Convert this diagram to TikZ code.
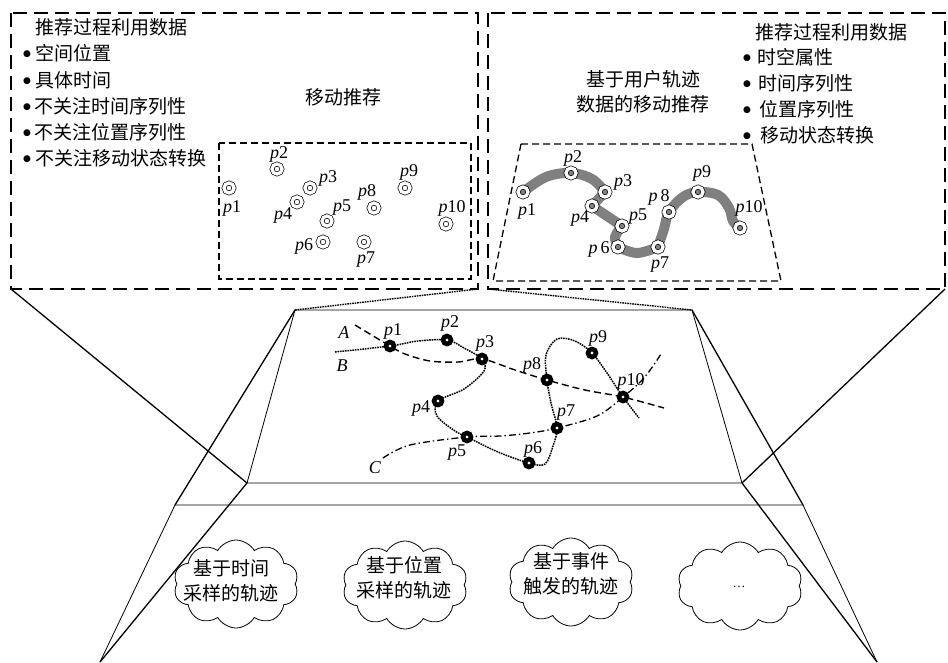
\documentclass[tikz,border=0pt]{standalone}
\usepackage{fontspec}
\setmainfont{Liberation Serif}
\newfontfamily\cjk{Noto Sans CJK SC}
\newfontfamily\djv{DejaVu Sans}
\usetikzlibrary{shapes.symbols}
\begin{document}
\begin{tikzpicture}[x=1pt,y=-1pt,
  cn/.style={font=\cjk\fontsize{19}{25}\selectfont, inner sep=0pt},
  bl/.style={cn, anchor=west},
  bul/.style={font=\djv\fontsize{9}{9}\selectfont, inner sep=0pt},
  lab/.style={font=\fontsize{18}{20}\selectfont, inner sep=0pt},
  bigbox/.style={line width=2.2pt, dash pattern=on 14pt off 7pt},
  smallbox/.style={line width=1.3pt, dash pattern=on 7pt off 4pt},
  thinln/.style={line width=0.8pt},
  projln/.style={line width=1.3pt},
  dotln/.style={line width=1.4pt, dash pattern=on 1.6pt off 0.9pt},
  trajA/.style={line width=1.4pt, dash pattern=on 7pt off 4pt},
  trajB/.style={line width=1.5pt, dash pattern=on 1.6pt off 0.9pt},
  trajC/.style={line width=1.3pt, dash pattern=on 7pt off 3pt on 1.4pt off 3pt},
  ptA/.style={circle, draw, line width=0.7pt, double=white, double distance=3.3pt, fill=white, minimum size=10pt, inner sep=0pt},
  ptB/.style={circle, draw, line width=0.7pt, double=white, double distance=3.3pt, fill=gray, minimum size=10pt, inner sep=0pt},
  ptM/.style={circle, draw=black, line width=4.6pt, fill=white, minimum size=8pt, inner sep=0pt},
  graypath/.style={line width=10pt, gray, line cap=round, line join=round},
  cloudbox/.style={cloud, draw, line width=0.8pt, cloud puffs=10, cloud puff arc=120, cloud ignores aspect, minimum width=125pt, minimum height=88pt, inner sep=0pt}
]
\useasboundingbox (0,0) rectangle (948,662);

% corner coordinates
\coordinate (LTL) at (11,13);  \coordinate (LBR) at (478,289); \coordinate (LBL) at (11,289);
\coordinate (RTL) at (488,13); \coordinate (RBR) at (945,289); \coordinate (RBL) at (488,289);
\coordinate (PTL) at (295,310); \coordinate (PTR) at (692,310);
\coordinate (PBR) at (742,483); \coordinate (PBL) at (247,483);
\coordinate (QTL) at (175,505); \coordinate (QTR) at (803,505);
\coordinate (QBL) at (100,662); \coordinate (QBR) at (877,662);

% big boxes
\draw[bigbox] (LTL) rectangle (LBR);
\draw[bigbox] (RTL) rectangle (RBR);

% projection lines
\draw[projln] (LBL) -- (PBL);
\draw[dotln] (LBR) -- (PTL);
\draw[dotln] (RBL) -- (PTR);
\draw[projln] (RBR) -- (PBR);
\draw[projln] (PTL) -- (QTL);
\draw[projln] (PTR) -- (QTR);
\draw[projln] (PBL) -- (QBL);
\draw[projln] (PBR) -- (QBR);

% middle plane and bottom layer
\draw[thinln] (PTL) -- (PTR) -- (PBR) -- (PBL) -- cycle;
\draw[thinln] (QBL) -- (QTL) -- (QTR) -- (QBR);

% ---------- left box text ----------
\node[bl] (lt0) at (35,27) {推荐过程利用数据};
\node[bul] (lb1) at (27,54) {●}; \node[bl] (lt1) at (35,53) {空间位置};
\node[bul] (lb2) at (27,81) {●}; \node[bl] (lt2) at (35,80) {具体时间};
\node[bul] (lb3) at (27,107) {●}; \node[bl] (lt3) at (34,106) {不关注时间序列性};
\node[bul] (lb4) at (27,133) {●}; \node[bl] (lt4) at (34,132) {不关注位置序列性};
\node[bul] (lb5) at (27,159) {●}; \node[bl] (lt5) at (35,158) {不关注移动状态转换};
\node[cn] (lt6) at (343,97) {移动推荐};

% left inner box
\coordinate (LIa) at (219,143); \coordinate (LIb) at (471,279);
\draw[smallbox] (LIa) rectangle (LIb);
\node[ptA] (q1) at (229,188) {};  \node[lab] (lq1) at (232,208) {\textit{p}1};
\node[ptA] (q2) at (277,169) {};  \node[lab] (lq2) at (279,154) {\textit{p}2};
\node[ptA] (q3) at (310,188) {};  \node[lab] (lq3) at (328,178) {\textit{p}3};
\node[ptA] (q4) at (297,202) {};  \node[lab] (lq4) at (283,215) {\textit{p}4};
\node[ptA] (q5) at (327,221) {};  \node[lab] (lq5) at (342,208) {\textit{p}5};
\node[ptA] (q6) at (323,242) {};  \node[lab] (lq6) at (304,246) {\textit{p}6};
\node[ptA] (q7) at (364,242) {};  \node[lab] (lq7) at (366,260) {\textit{p}7};
\node[ptA] (q8) at (374,208) {};  \node[lab] (lq8) at (367,192) {\textit{p}8};
\node[ptA] (q9) at (405,188) {};  \node[lab] (lq9) at (409,172) {\textit{p}9};
\node[ptA] (q10) at (446,224) {}; \node[lab] (lq10) at (452,208) {\textit{p}10};

% ---------- right box text ----------
\node[bl] (rt0) at (755,32) {推荐过程利用数据};
\node[bul] (rb1) at (747,58) {●}; \node[bl] (rt1) at (757,57) {时空属性};
\node[bul] (rb2) at (747,84) {●}; \node[bl] (rt2) at (758,83) {时间序列性};
\node[bul] (rb3) at (747,110) {●}; \node[bl] (rt3) at (759,109) {位置序列性};
\node[bul] (rb4) at (747,136) {●}; \node[bl] (rt4) at (760,135) {移动状态转换};
\node[cn, align=center] (rt5) at (643,92) {基于用户轨迹\\数据的移动推荐};

% right trapezoid
\coordinate (RIa) at (521,144); \coordinate (RIb) at (752,144);
\coordinate (RIc) at (781,281); \coordinate (RId) at (493,281);
\draw[smallbox] (RIa) -- (RIb) -- (RIc) -- (RId) -- cycle;

\coordinate (r1) at (523,192); \coordinate (r2) at (571,173); \coordinate (r3) at (605,192);
\coordinate (r4) at (592,206); \coordinate (r5) at (622,226); \coordinate (r6) at (618,247);
\coordinate (r7) at (658,247); \coordinate (r8) at (669,212); \coordinate (r9) at (698,192);
\coordinate (r10) at (740,228);
\draw[graypath] plot[smooth, tension=0.6] coordinates {(r1) (546,177) (r2) (592,179) (r3)};
\draw[graypath] (r3) -- (r4) -- (r5);
\draw[graypath] plot[smooth, tension=0.6] coordinates {(r5) (615,237) (r6)};
\draw[graypath] plot[smooth, tension=0.6] coordinates {(r6) (637,253) (r7)};
\draw[graypath] plot[smooth, tension=0.6] coordinates {(r7) (664,229) (r8) (683,197) (r9) (718,195) (729,208) (733,221) (r10)};

\node[ptB] (R1) at (r1) {};  \node[lab] (lr1) at (527,211) {\textit{p}1};
\node[ptB] (R2) at (r2) {};  \node[lab] (lr2) at (573,158) {\textit{p}2};
\node[ptB] (R3) at (r3) {};  \node[lab] (lr3) at (623,182) {\textit{p}3};
\node[ptB] (R4) at (r4) {};  \node[lab] (lr4) at (580,218) {\textit{p}4};
\node[ptB] (R5) at (r5) {};  \node[lab] (lr5) at (638,217) {\textit{p}5};
\node[ptB] (R6) at (r6) {};  \node[lab] (lr6) at (599,249) {\textit{p}\,6};
\node[ptB] (R7) at (r7) {};  \node[lab] (lr7) at (660,265) {\textit{p}7};
\node[ptB] (R8) at (r8) {};  \node[lab] (lr8) at (659,197) {\textit{p}\,8};
\node[ptB] (R9) at (r9) {};  \node[lab] (lr9) at (702,173) {\textit{p}9};
\node[ptB] (R10) at (r10) {}; \node[lab] (lr10) at (749,208) {\textit{p}10};

% ---------- middle plane trajectories ----------
\coordinate (m1) at (390,346); \coordinate (m2) at (447,340); \coordinate (m3) at (482,359);
\coordinate (m4) at (438,401); \coordinate (m5) at (467,437); \coordinate (m6) at (529,463);
\coordinate (m7) at (557,428); \coordinate (m8) at (547,380); \coordinate (m9) at (592,353);
\coordinate (m10) at (623,397);
\coordinate (As) at (355,325); \coordinate (Ae) at (664,408);
\coordinate (Bs) at (335,352); \coordinate (Be) at (639,418);
\coordinate (Cs) at (383,458); \coordinate (Ce) at (661,354);

% A: dashed
\draw[trajA] plot[smooth, tension=0.55] coordinates {(As) (m1) (405,354) (430,361) (458,362) (m3) (515,370) (m8) (585,390) (m10) (Ae)};
% B: dotted
\draw[trajB] plot[smooth, tension=0.55] coordinates {(Bs) (m1) (418,341) (m2) (464,348) (m3) (484,371) (464,389) (m4) (437,416) (455,431) (m5) (498,452) (m6) (545,464) (553,446) (m7) (551,403) (m8) (546,355) (557,339) (575,341) (m9) (607,373) (m10) (Be)};
% C: dash-dot
\draw[trajC] plot[smooth, tension=0.55] coordinates {(Cs) (410,445) (m5) (500,436) (530,433) (m7) (597,416) (m10) (644,378) (Ce)};

\node[ptM] (M1) at (m1) {};  \node[lab] (lm1) at (393,331) {\textit{p}1};
\node[ptM] (M2) at (m2) {};  \node[lab] (lm2) at (450,323) {\textit{p}2};
\node[ptM] (M3) at (m3) {};  \node[lab] (lm3) at (485,343) {\textit{p}3};
\node[ptM] (M4) at (m4) {};  \node[lab] (lm4) at (421,408) {\textit{p}4};
\node[ptM] (M5) at (m5) {};  \node[lab] (lm5) at (457,453) {\textit{p}5};
\node[ptM] (M6) at (m6) {};  \node[lab] (lm6) at (533,449) {\textit{p}6};
\node[ptM] (M7) at (m7) {};  \node[lab] (lm7) at (566,413) {\textit{p}7};
\node[ptM] (M8) at (m8) {};  \node[lab] (lm8) at (532,365) {\textit{p}8};
\node[ptM] (M9) at (m9) {};  \node[lab] (lm9) at (598,338) {\textit{p}9};
\node[ptM] (M10) at (m10) {}; \node[lab] (lm10) at (631,381) {\textit{p}10};
\node[lab] (tA) at (344,333) {\textit{A}};
\node[lab] (tB) at (342,366) {\textit{B}};
\node[lab] (tC) at (375,468) {\textit{C}};

% ---------- clouds ----------
\node[cloudbox] (k1) at (236,584) {};
\node[cn, align=center] (kt1) at (231,581) {基于时间\\采样的轨迹};
\node[cloudbox] (k2) at (405,585) {};
\node[cn, align=center] (kt2) at (404,578) {基于位置\\采样的轨迹};
\node[cloudbox] (k3) at (571,582) {};
\node[cn, align=center] (kt3) at (571,574) {基于事件\\触发的轨迹};
\node[cloudbox] (k4) at (740,586) {};
\node[font=\fontsize{13}{15}\selectfont, inner sep=0pt] (kt4) at (739,587) {\ldots};
\end{tikzpicture}
\end{document}
